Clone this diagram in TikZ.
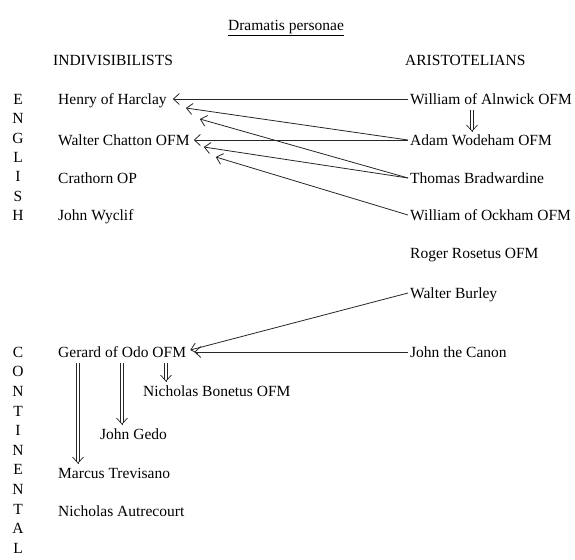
\documentclass[tikz,border=0pt]{standalone}
\usepackage{fontspec}
\setmainfont{Liberation Serif}
\usetikzlibrary{arrows.meta}
\begin{document}
\begin{tikzpicture}[x=1pt,y=-1pt,
  txtbase/.style={font=\fontsize{15.5}{18}\selectfont, inner sep=0pt, text height=10.5pt, text depth=0pt},
  pname/.style={txtbase, anchor=west},
  ltr/.style={txtbase, anchor=center},
  conn/.style={line width=0.8pt, draw=black!85, -{Straight Barb[length=6pt,width=11pt,line width=0.8pt]}},
  dbl/.style={double=white, draw=black!85, double distance=2.6pt, line width=0.7pt},
  dtip/.style={line width=0.7pt, draw=black!85, -{Straight Barb[length=6pt,width=11pt,line width=0.7pt]}}]
\useasboundingbox (0,0) rectangle (575,559);
% title and headers
\node[txtbase, anchor=center] (title) at (286,25) {\underline{Dramatis personae}};
\node[pname] (hind) at (53,60) {INDIVISIBILISTS};
\node[pname] (hari) at (405,60) {ARISTOTELIANS};
% side letters
\foreach \l [count=\i from 0] in {E,N,G,L,I,S,H}
  \node[ltr] (eng\i) at (18,99+19.4*\i) {\l};
\foreach \l [count=\i from 0] in {C,O,N,T,I,N,E,N,T,A,L}
  \node[ltr] (con\i) at (18,352+19.6*\i) {\l};
% indivisibilists
\node[pname] (henry) at (58,99) {Henry of Harclay};
\node[pname] (walter) at (58,140) {Walter Chatton OFM};
\node[pname] (crathorn) at (58,178) {Crathorn OP};
\node[pname] (wyclif) at (58,215) {John Wyclif};
\node[pname] (gerard) at (58,352) {Gerard of Odo OFM};
\node[pname] (bonetus) at (143,391) {Nicholas Bonetus OFM};
\node[pname] (gedo) at (100,434) {John Gedo};
\node[pname] (marcus) at (58,473) {Marcus Trevisano};
\node[pname] (autre) at (58,511) {Nicholas Autrecourt};
% aristotelians
\node[pname] (alnwick) at (410,99) {William of Alnwick OFM};
\node[pname] (adam) at (410,140) {Adam Wodeham OFM};
\node[pname] (thomas) at (410,178) {Thomas Bradwardine};
\node[pname] (ockham) at (410,215) {William of Ockham OFM};
\node[pname] (roger) at (410,253) {Roger Rosetus OFM};
\node[pname] (burley) at (410,293) {Walter Burley};
\node[pname] (canon) at (410,352) {John the Canon};
% connectors
\draw[conn] ([shift={(-2,0)}]alnwick.west) -- ([shift={(6,0)}]henry.east);
\draw[conn] ([shift={(-2,0)}]adam.west) -- ([shift={(19,9)}]henry.east);
\draw[conn] ([shift={(-2,0)}]thomas.west) -- ([shift={(33,20)}]henry.east);
\draw[conn] ([shift={(-2,0)}]adam.west) -- ([shift={(4,0)}]walter.east);
\draw[conn] ([shift={(-2,0)}]thomas.west) -- ([shift={(14,7)}]walter.east);
\draw[conn] ([shift={(-2,0)}]ockham.west) -- ([shift={(26,17)}]walter.east);
\draw[conn] ([shift={(-2,0)}]burley.west) -- ([shift={(4,-2)}]gerard.east);
\draw[conn] ([shift={(-2,0)}]canon.west) -- ([shift={(8,0)}]gerard.east);
% double arrows
\coordinate (a1) at ([shift={(62,6)}]alnwick.south west);
\coordinate (a2) at ([shift={(62,-3)}]alnwick.south west |- adam.north);
\coordinate (g1) at ([shift={(108,6)}]gerard.south west);
\coordinate (g2) at ([shift={(108,-4)}]gerard.south west |- bonetus.north);
\coordinate (g3) at ([shift={(64,6)}]gerard.south west);
\coordinate (g4) at ([shift={(64,-4)}]gerard.south west |- gedo.north);
\coordinate (g5) at ([shift={(20,6)}]gerard.south west);
\coordinate (g6) at ([shift={(20,-4)}]gerard.south west |- marcus.north);
\foreach \s/\e in {a1/a2, g1/g2, g3/g4, g5/g6} {
  \draw[dbl] (\s) -- ([shift={(0,-1.5)}]\e);
  \draw[dtip] ([shift={(0,-1)}]\e) -- (\e);
}
\end{tikzpicture}
\end{document}
